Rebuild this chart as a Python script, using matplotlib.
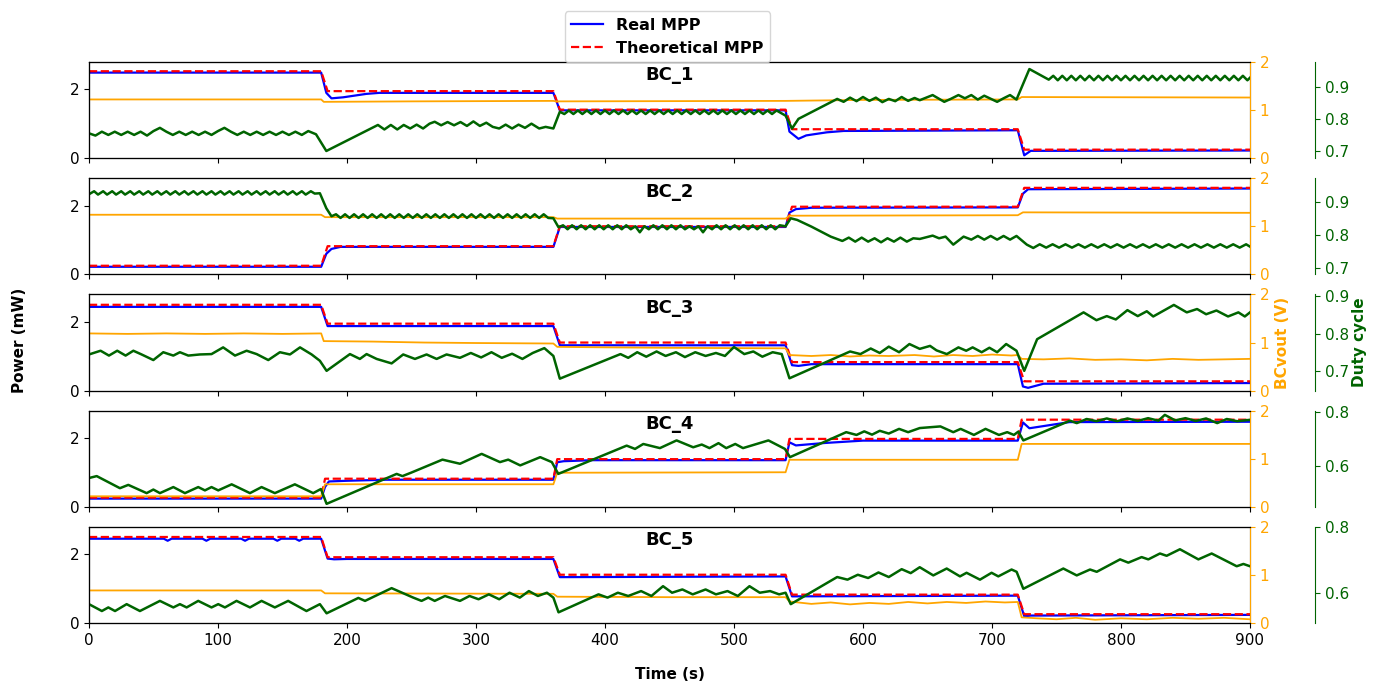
import numpy as np
import matplotlib
matplotlib.use('Agg')
import matplotlib.pyplot as plt

# every series is a list of (time s, value) points
names = ['BC_1', 'BC_2', 'BC_3', 'BC_4', 'BC_5']

# ---- BC_1 ----
theo_bc1 = [(0, 2.53), (180, 2.53), (185, 1.95), (360, 1.95), (365, 1.41), (540, 1.41),
            (545, 0.84), (720, 0.84), (725, 0.245), (900, 0.245)]
real_bc1 = [(0, 2.49), (180, 2.49), (184, 1.90), (188, 1.74), (197, 1.77), (215, 1.87),
            (225, 1.90), (360, 1.90), (365, 1.39), (540, 1.39), (543, 0.77), (550, 0.56),
            (556, 0.66), (572, 0.75), (585, 0.79), (720, 0.81), (725, 0.08), (730, 0.21),
            (900, 0.22)]
vout_bc1 = [(0, 1.22), (180, 1.22), (182, 1.17), (250, 1.18), (360, 1.19), (362, 1.18),
            (540, 1.19), (600, 1.21), (720, 1.22), (723, 1.27), (900, 1.26)]
duty_bc1 = [(0, .755), (5, .748), (10, .76), (15, .75), (20, .76), (25, .75), (30, .76),
            (35, .75), (40, .76), (45, .748), (50, .762), (55, .772), (60, .76), (65, .75),
            (70, .76), (75, .75), (80, .76), (85, .75), (90, .76), (95, .75), (100, .762),
            (105, .772), (110, .76), (115, .75), (120, .76), (125, .75), (130, .76), (135, .75),
            (140, .76), (145, .75), (150, .76), (155, .75), (160, .76), (165, .75), (170, .762),
            (176, .752), (184, .70), (224, .781), (229, .767), (234, .781), (239, .767),
            (244, .781), (249, .77), (254, .782), (259, .77), (264, .785), (268, .791),
            (273, .78), (278, .79), (283, .78), (288, .79), (293, .778), (298, .792), (303, .778),
            (308, .788), (313, .775), (318, .77), (323, .782), (328, .77), (333, .782),
            (338, .772), (343, .785), (349, .77), (354, .775), (360, .77), (365, .822),
            (368.5, .815), (372, .826), (375.5, .815), (379, .826), (382.5, .815), (386, .826),
            (389.5, .815), (393, .826), (396.5, .815), (400, .826), (403.5, .815), (407, .826),
            (410.5, .815), (414, .826), (417.5, .815), (421, .826), (424.5, .815), (428, .826),
            (431.5, .815), (435, .826), (438.5, .815), (442, .826), (445.5, .815), (449, .826),
            (452.5, .815), (456, .826), (459.5, .815), (463, .826), (466.5, .815), (470, .826),
            (473.5, .815), (477, .826), (480.5, .815), (484, .826), (487.5, .815), (491, .826),
            (494.5, .815), (498, .826), (501.5, .815), (505, .826), (508.5, .815), (512, .826),
            (515.5, .815), (519, .826), (522.5, .815), (526, .826), (529.5, .815), (533, .826),
            (536.5, .818), (540, .81), (545, .77), (550, .80), (580, .862), (585, .853),
            (590, .866), (595, .855), (600, .868), (605, .856), (610, .866), (615, .852),
            (620, .862), (625, .855), (630, .868), (635, .856), (640, .865), (644, .858),
            (654, .874), (663, .853), (668, .862), (674, .874), (679, .864), (684, .874),
            (689, .86), (694, .872), (704, .853), (709, .864), (714, .874), (719, .86),
            (729, .955), (744, .922), (747.5, .934), (751, .92), (754.5, .934), (758, .92),
            (761.5, .934), (765, .92), (768.5, .934), (772, .92), (775.5, .934), (779, .92),
            (782.5, .934), (786, .92), (789.5, .934), (793, .92), (796.5, .934), (800, .92),
            (803.5, .934), (807, .92), (810.5, .934), (814, .92), (817.5, .934), (821, .92),
            (824.5, .934), (828, .92), (831.5, .934), (835, .92), (838.5, .934), (842, .92),
            (845.5, .934), (849, .92), (852.5, .934), (856, .92), (859.5, .934), (863, .92),
            (866.5, .934), (870, .92), (873.5, .934), (877, .92), (880.5, .934), (884, .92),
            (887.5, .934), (891, .92), (894.5, .934), (898, .92), (900, .928)]

# ---- BC_2 ----
theo_bc2 = [(0, .25), (180, .25), (185, .82), (360, .82), (365, 1.40), (540, 1.40),
            (545, 1.97), (720, 1.97), (725, 2.52), (900, 2.52)]
real_bc2 = [(0, .22), (180, .22), (184, .60), (188, .74), (195, .80), (360, .80), (365, 1.38),
            (540, 1.38), (543, 1.80), (548, 1.90), (560, 1.94), (720, 1.95), (724, 2.35),
            (728, 2.48), (900, 2.50)]
vout_bc2 = [(0, 1.24), (180, 1.24), (183, 1.19), (360, 1.19), (363, 1.16), (540, 1.16),
            (543, 1.22), (720, 1.23), (724, 1.29), (900, 1.28)]
duty_bc2 = [(0, .922), (4, .931), (7, .921), (11, .931), (14, .921), (18, .931), (21, .921),
            (25, .931), (28, .921), (32, .931), (35, .921), (39, .931), (42, .921), (46, .931),
            (49, .921), (53, .931), (56, .921), (60, .931), (63, .921), (67, .931), (70, .921),
            (74, .931), (77, .921), (81, .931), (84, .921), (88, .931), (91, .921), (95, .931),
            (98, .921), (102, .931), (105, .921), (109, .931), (112, .921), (116, .931),
            (119, .921), (123, .931), (126, .921), (130, .931), (133, .921), (137, .931),
            (140, .921), (144, .931), (147, .921), (151, .931), (154, .921), (158, .931),
            (161, .921), (165, .931), (168, .921), (172, .931), (175, .924), (179, .925),
            (184, .88), (188, .856), (191.5, .862), (195, .851), (198.5, .862), (202, .851),
            (205.5, .862), (209, .851), (212.5, .862), (216, .851), (219.5, .862), (223, .851),
            (226.5, .862), (230, .851), (233.5, .862), (237, .851), (240.5, .862), (244, .851),
            (247.5, .862), (251, .851), (254.5, .862), (258, .851), (261.5, .862), (265, .851),
            (268.5, .862), (272, .851), (275.5, .862), (279, .851), (282.5, .862), (286, .851),
            (289.5, .862), (293, .851), (296.5, .862), (300, .851), (303.5, .862), (307, .851),
            (310.5, .862), (314, .851), (317.5, .862), (321, .851), (324.5, .862), (328, .851),
            (331.5, .862), (335, .851), (338.5, .862), (342, .851), (345.5, .862), (349, .851),
            (352.5, .862), (356, .851), (360, .85), (364, .823), (367.5, .829), (371, .817),
            (374.5, .829), (378, .817), (381.5, .829), (385, .817), (388.5, .829), (392, .817),
            (395.5, .829), (399, .817), (402.5, .829), (406, .817), (409.5, .829), (413, .817),
            (416.5, .829), (420, .817), (423.5, .826), (427, .808), (430.5, .826), (434, .817),
            (437.5, .829), (441, .817), (444.5, .829), (448, .817), (451.5, .829), (455, .817),
            (458.5, .829), (462, .817), (465.5, .826), (469, .817), (472.5, .826), (476, .808),
            (479.5, .826), (483, .817), (486.5, .829), (490, .817), (493.5, .829), (497, .817),
            (500.5, .829), (504, .817), (507.5, .829), (511, .817), (514.5, .829), (518, .817),
            (521.5, .829), (525, .817), (528.5, .829), (532, .817), (535.5, .829), (540, .826),
            (544, .85), (549, .845), (560, .825), (575, .795), (584, .782), (589, .792),
            (594, .78), (599, .792), (604, .78), (609, .79), (614, .778), (619, .79), (624, .78),
            (629, .792), (634, .78), (639, .79), (644, .788), (654, .798), (659, .79),
            (664, .795), (670, .771), (678, .795), (684, .786), (689, .797), (694, .786),
            (699, .797), (704, .786), (709, .797), (714, .786), (719, .797), (727, .771),
            (732, .761), (737, .772), (742, .762), (747, .772), (752, .762), (757, .772),
            (762, .762), (767, .772), (772, .762), (777, .772), (782, .762), (787, .772),
            (792, .762), (797, .772), (802, .762), (807, .772), (812, .762), (817, .772),
            (822, .762), (827, .772), (832, .762), (837, .772), (842, .762), (847, .772),
            (852, .762), (857, .772), (862, .762), (867, .772), (872, .762), (877, .772),
            (882, .762), (887, .772), (892, .762), (897, .772), (900, .765)]

# ---- BC_3 ----
theo_bc3 = [(0, 2.50), (180, 2.50), (185, 1.95), (360, 1.95), (365, 1.40), (540, 1.40),
            (545, 0.83), (720, 0.83), (725, 0.27), (900, 0.27)]
real_bc3 = [(0, 2.44), (180, 2.44), (185, 1.88), (360, 1.88), (365, 1.32), (540, 1.32),
            (545, 0.74), (550, 0.72), (560, 0.77), (720, 0.77), (724, 0.12), (728, 0.08),
            (740, 0.20), (900, 0.22)]
vout_bc3 = [(0, 1.19), (30, 1.18), (60, 1.19), (90, 1.18), (120, 1.19), (150, 1.18),
            (180, 1.19), (182, 1.03), (220, 1.02), (260, 1.0), (300, 0.99), (360, 0.98),
            (363, 0.91), (400, 0.90), (450, 0.89), (540, 0.88), (543, 0.74), (560, 0.72),
            (575, 0.74), (590, 0.71), (605, 0.73), (620, 0.72), (640, 0.74), (655, 0.71),
            (670, 0.74), (685, 0.72), (700, 0.75), (715, 0.73), (720, 0.74), (723, 0.66),
            (740, 0.65), (760, 0.67), (780, 0.64), (800, 0.65), (820, 0.63), (840, 0.66),
            (860, 0.64), (880, 0.65), (900, 0.66)]
duty_bc3 = [(0, .744), (9, .754), (15.5, .741), (21.9, .754), (28.4, .741), (34.4, .754),
            (40.8, .744), (49.9, .729), (57.6, .75), (65.4, .741), (70.5, .75), (77, .741),
            (86, .744), (95, .745), (104, .763), (113.2, .741), (122.2, .754), (130, .745),
            (139, .729), (148, .75), (155.8, .744), (163.6, .763), (172.6, .744), (179, .727),
            (184.2, .70), (202.3, .745), (210, .732), (215.2, .745), (223, .732), (234.6, .72),
            (243.6, .744), (252.7, .732), (261.7, .744), (269.5, .732), (277.2, .744),
            (287.6, .735), (296, .748), (304, .736), (312, .75), (320, .735), (328, .746),
            (336, .732), (344, .748), (353, .761), (360, .74), (365, .679), (412, .745),
            (418, .735), (425, .75), (432, .738), (440, .752), (447, .74), (455, .75),
            (462, .737), (470, .75), (478, .74), (486, .748), (493, .74), (500, .764),
            (508, .745), (515, .752), (522, .738), (530, .75), (537, .745), (543, .68),
            (590, .752), (598, .745), (606, .76), (613, .748), (620, .765), (628, .75),
            (636, .772), (644, .759), (652, .767), (657, .755), (665, .745), (674, .763),
            (680, .754), (685, .763), (692, .75), (698, .762), (704, .75), (711, .772),
            (719, .754), (725, .70), (735, .785), (771, .857), (781, .836), (789, .847),
            (796, .838), (805, .863), (813, .847), (820, .86), (825, .846), (841, .877),
            (851, .857), (859, .866), (866, .852), (874, .862), (883, .846), (891, .857),
            (896, .846), (900, .857)]

# ---- BC_4 ----
theo_bc4 = [(0, .27), (180, .27), (183, .82), (360, .82), (363, 1.39), (540, 1.39),
            (543, 1.98), (720, 1.98), (723, 2.54), (900, 2.54)]
real_bc4 = [(0, .24), (180, .24), (183, .58), (186, .74), (200, .76), (230, .79), (360, .79),
            (363, 1.30), (368, 1.33), (390, 1.36), (540, 1.36), (543, 1.88), (548, 1.79),
            (570, 1.86), (600, 1.93), (720, 1.93), (724, 2.46), (729, 2.29), (760, 2.47),
            (900, 2.48)]
vout_bc4 = [(0, .22), (180, .22), (183, .47), (360, .47), (363, .71), (540, .72), (543, .98),
            (720, .98), (723, 1.31), (900, 1.31)]
duty_bc4 = [(0, .558), (6, .565), (24, .521), (30.5, .533), (44.7, .503), (49.9, .516),
            (55, .503), (65.4, .525), (74.4, .503), (84.7, .525), (89.9, .513), (95, .525),
            (100.2, .513), (110.6, .535), (124.8, .503), (133.8, .525), (144.1, .503),
            (159.6, .535), (173.8, .503), (179.8, .518), (184.2, .464), (238.5, .573),
            (243, .565), (250, .578), (274, .625), (287.6, .610), (304.4, .646), (318.6, .616),
            (325, .625), (334.3, .604), (349.8, .634), (358.8, .616), (363.8, .573),
            (416.8, .676), (423.3, .664), (429.7, .682), (442.6, .667), (455.5, .695),
            (468.4, .67), (475, .68), (481, .667), (488, .685), (494, .667), (501, .682),
            (507, .667), (526.7, .695), (539.5, .664), (543.4, .634), (587, .725), (595, .715),
            (601, .728), (607, .716), (613, .73), (620, .72), (628, .737), (635, .725),
            (644, .74), (660, .746), (670, .725), (675.7, .737), (686, .715), (695, .737),
            (705.4, .715), (711.8, .725), (717, .715), (720.4, .727), (724.3, .695),
            (760.5, .767), (765.7, .758), (773.4, .773), (781, .765), (789, .775), (797, .765),
            (805, .775), (813, .766), (821, .776), (829, .767), (834, .788), (842, .768),
            (850, .776), (858, .766), (866, .775), (874.6, .758), (882, .773), (890, .765),
            (900, .77)]

# ---- BC_5 ----
theo_bc5 = [(0, 2.51), (180, 2.51), (185, 1.92), (360, 1.92), (365, 1.41), (540, 1.41),
            (545, 0.83), (720, 0.83), (725, 0.26), (900, 0.26)]
real_bc5 = [(0, 2.46), (58, 2.46), (61, 2.40), (64, 2.46), (88, 2.46), (91, 2.40), (94, 2.46),
            (118, 2.46), (121, 2.40), (124, 2.46), (143, 2.46), (146, 2.40), (149, 2.46),
            (160, 2.46), (163, 2.40), (166, 2.46), (180, 2.46), (185, 1.88), (190, 1.86),
            (200, 1.87), (360, 1.87), (365, 1.34), (540, 1.36), (545, 0.78), (720, 0.80),
            (725, 0.20), (730, 0.22), (900, 0.24)]
vout_bc5 = [(0, .68), (180, .68), (183, .62), (360, .61), (363, .55), (450, .54), (540, .54),
            (543, .45), (560, .40), (575, .43), (590, .39), (605, .42), (620, .40), (635, .44),
            (650, .41), (665, .44), (680, .42), (695, .45), (710, .43), (720, .44), (723, .12),
            (735, .10), (750, .08), (765, .11), (780, .07), (800, .10), (820, .08), (840, .11),
            (860, .09), (880, .11), (900, .08)]
duty_bc5 = [(0, .565), (10, .544), (15, .555), (20.2, .544), (29.2, .565), (39.5, .544),
            (55, .575), (65.4, .555), (70.5, .565), (75.7, .555), (84.7, .575), (95, .555),
            (100.2, .565), (105.4, .555), (114.4, .575), (124.8, .555), (133.8, .575),
            (144.1, .555), (154.4, .575), (168.6, .544), (179, .565), (184.2, .537),
            (208.8, .584), (214, .575), (234.6, .614), (251.4, .585), (257.8, .575), (263, .585),
            (268, .575), (276, .59), (287.6, .575), (295, .59), (302, .58), (310, .595),
            (318, .58), (326, .60), (334, .585), (341, .605), (348, .59), (355, .60), (360, .585),
            (364, .54), (395, .595), (402, .585), (410, .60), (418, .59), (428, .605), (436, .59),
            (445, .62), (452, .60), (460, .61), (468, .595), (478, .61), (486, .595), (495, .605),
            (503, .59), (512, .62), (520, .60), (528, .605), (535, .595), (540, .60), (544, .565),
            (580, .648), (588, .64), (596, .655), (604, .645), (612, .662), (620, .648),
            (630, .672), (637, .66), (644, .678), (654.5, .653), (664.9, .674), (675.2, .650),
            (680.3, .661), (690.7, .640), (699.7, .661), (704.9, .650), (715.2, .671),
            (719.1, .664), (724.3, .612), (755.3, .674), (765.7, .653), (776, .671),
            (781.2, .664), (799.3, .702), (805.7, .692), (816, .709), (821.2, .702),
            (830.2, .72), (835.4, .713), (845.7, .733), (860, .702), (870.3, .72), (889.7, .681),
            (894.9, .688), (900, .681)]

theo = [theo_bc1, theo_bc2, theo_bc3, theo_bc4, theo_bc5]
real = [real_bc1, real_bc2, real_bc3, real_bc4, real_bc5]
vout = [vout_bc1, vout_bc2, vout_bc3, vout_bc4, vout_bc5]
duty = [duty_bc1, duty_bc2, duty_bc3, duty_bc4, duty_bc5]

duty_lims = [(0.678, 0.977), (0.682, 0.970), (0.647, 0.905), (0.453, 0.803), (0.507, 0.801)]
duty_ticks = [[0.7, 0.8, 0.9], [0.7, 0.8, 0.9], [0.7, 0.8, 0.9], [0.6, 0.8], [0.6, 0.8]]

plt.rcParams['font.family'] = 'DejaVu Sans'
plt.rcParams['font.size'] = 11

green = '#006400'
fig, axes = plt.subplots(5, 1, figsize=(13.73, 6.81), dpi=100, sharex=True)
fig.subplots_adjust(left=0.0648, right=0.9104, top=0.909, bottom=0.085, hspace=0.21)

for i, ax in enumerate(axes):
    t, v = np.array(real[i]).T
    l1, = ax.plot(t, v, color='blue', lw=1.6, label='Real MPP')
    t, v = np.array(theo[i]).T
    l2, = ax.plot(t, v, color='red', lw=1.6, ls='--', label='Theoretical MPP')
    ax.set_xlim(0, 900)
    ax.set_ylim(0, 2.8)
    ax.set_yticks([0, 2])
    ax.set_xticks(range(0, 901, 100))

    axv = ax.twinx()
    t, v = np.array(vout[i]).T
    axv.plot(t, v, color='orange', lw=1.3)
    axv.set_ylim(0, 2)
    axv.set_yticks([0, 1, 2])
    axv.spines['right'].set_color('orange')
    axv.tick_params(axis='y', colors='orange')

    axd = ax.twinx()
    t, v = np.array(duty[i]).T
    axd.plot(t, v, color=green, lw=1.8)
    axd.set_ylim(*duty_lims[i])
    axd.set_yticks(duty_ticks[i])
    axd.spines['right'].set_position(('axes', 1.056))
    axd.spines['right'].set_color(green)
    axd.tick_params(axis='y', colors=green)

    axd.text(0.5, 0.86, names[i], transform=ax.transAxes, ha='center', va='center',
             fontsize=13, fontweight='bold')

    if i == 2:
        axv.set_ylabel('BCvout (V)', color='orange', fontweight='bold')
        axd.set_ylabel('Duty cycle', color=green, fontweight='bold', labelpad=2)

axes[-1].set_xlabel('Time (s)', fontweight='bold', labelpad=14)
fig.text(0.014, 0.5, 'Power (mW)', rotation=90, ha='center', va='center', fontweight='bold')
fig.legend([l1, l2], ['Real MPP', 'Theoretical MPP'], loc='upper center',
           bbox_to_anchor=(0.486, 0.995), prop={'weight': 'bold', 'size': 11.5})

fig.savefig('out.png', dpi=100)
